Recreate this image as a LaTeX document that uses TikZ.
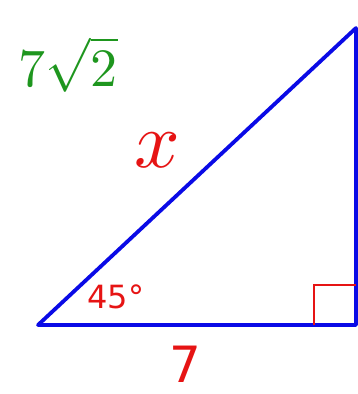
\documentclass[tikz,border=0pt]{standalone}
\usepackage{fontspec}
\usepackage{unicode-math}
\setmainfont{DejaVu Sans}
\definecolor{triblue}{RGB}{10,10,230}
\definecolor{markred}{RGB}{230,20,20}
\definecolor{handgreen}{RGB}{30,150,30}
\begin{document}
\begin{tikzpicture}[x=1pt,y=-1pt,
  side/.style={draw=triblue,line width=3.8pt,line join=round,line cap=round},
  redlbl/.style={text=markred,inner sep=0pt},
  greenlbl/.style={text=handgreen,inner sep=0pt}]
\useasboundingbox (0,0) rectangle (358,394);
\coordinate (A) at (38,325);
\coordinate (B) at (356,325);
\coordinate (C) at (356,28);
\draw[side] (A) -- (B) -- (C) -- cycle;
\coordinate (R1) at (314,325);
\coordinate (R2) at (314,285);
\coordinate (R3) at (356,285);
\draw[markred,line width=1.8pt] (R1) -- (R2) -- (R3);
\node[greenlbl,anchor=base,font=\fontsize{54}{56}\selectfont] (hyp7) at (68,86) {$7\sqrt{2}$};
\node[redlbl,font=\fontsize{80}{80}\selectfont] (x) at (157,150) {$x$};
\node[redlbl,font=\fontsize{32}{32}\selectfont] (ang) at (116,297) {45°};
\node[redlbl,font=\fontsize{50}{50}\selectfont] (base) at (185,364) {7};
\end{tikzpicture}
\end{document}
